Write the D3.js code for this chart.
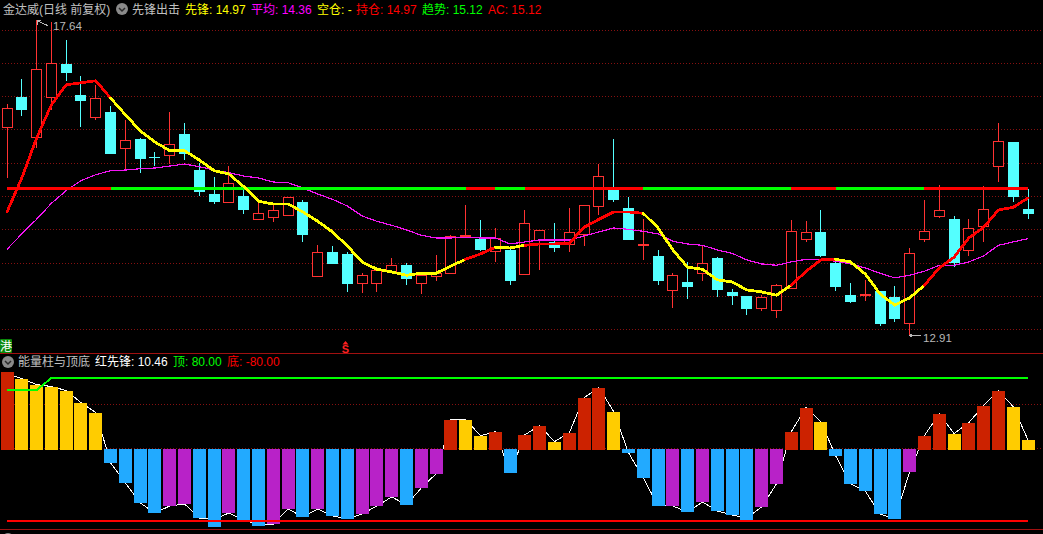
<!DOCTYPE html>
<html><head><meta charset="utf-8">
<script src="https://cdn.jsdelivr.net/npm/d3@7"></script>
<style>
html,body{margin:0;padding:0;background:#000;overflow:hidden}
svg{display:block}
text{font-family:"Liberation Sans","Noto Sans CJK SC",sans-serif;font-size:12px}
</style></head><body>
<script>
// ---- price candles ----
const open=[16.04,16.49,15.89,16.49,16.98,16.52,16.19,16.26,15.72,15.86,15.58,15.62,15.93,15.39,15.03,14.92,15.00,14.65,14.68,14.71,14.91,13.80,14.16,14.13,13.69,13.69,13.87,13.96,13.69,13.80,13.84,14.40,14.35,14.17,14.19,13.83,14.34,14.31,14.28,14.43,14.85,15.09,14.82,14.28,14.10,13.59,13.71,13.84,14.07,13.56,13.50,13.32,13.29,13.62,14.35,14.46,13.99,13.51,13.53,13.57,13.48,13.09,14.35,14.70,14.65,14.19,14.55,15.45,15.81,14.80];
const high=[16.38,16.76,17.64,17.61,17.34,16.80,16.67,16.35,16.14,15.87,15.66,16.26,16.10,15.50,15.29,15.45,15.14,14.95,14.89,14.98,14.94,14.26,14.25,14.16,13.84,13.89,14.07,13.99,13.81,14.11,14.41,14.86,14.64,14.52,14.20,14.79,14.49,14.59,14.82,14.86,15.48,15.86,14.98,14.65,14.19,13.84,14.01,14.26,14.08,13.60,13.50,13.51,13.68,14.64,14.62,14.79,14.07,13.69,13.74,13.57,13.65,14.22,14.94,15.17,14.70,14.65,15.15,16.10,15.81,15.11];
const low=[15.27,16.20,15.72,16.29,16.73,16.04,16.14,15.63,15.38,15.35,15.45,15.48,15.54,15.00,14.88,14.92,14.73,14.65,14.61,14.71,14.31,13.80,13.98,13.56,13.54,13.56,13.87,13.66,13.53,13.72,13.84,14.40,14.17,14.01,13.66,13.81,13.89,14.16,14.16,14.25,14.71,14.91,14.34,14.04,13.66,13.32,13.45,13.72,13.48,13.36,13.21,13.27,13.17,13.62,14.31,14.08,13.57,13.39,13.42,13.05,13.11,12.91,14.31,14.67,13.93,14.10,14.31,15.21,14.91,14.65];
const close=[16.32,16.29,16.91,17.00,16.85,16.43,16.47,15.63,15.84,15.56,15.57,15.78,15.63,15.06,14.91,15.20,14.79,14.74,14.79,14.98,14.41,14.16,13.98,13.68,13.81,13.89,13.96,13.75,13.81,13.84,14.40,14.41,14.19,14.37,13.72,14.59,14.49,14.22,14.46,14.86,15.30,14.94,14.34,14.28,13.72,13.81,13.63,13.99,13.59,13.50,13.30,13.48,13.66,14.47,14.46,14.10,13.63,13.41,13.53,13.08,13.15,14.14,14.47,14.79,13.99,14.52,14.80,15.83,14.98,14.73];
// ---- overlay lines ----
const leader=[14.76,15.27,15.87,16.37,16.67,16.70,16.73,16.47,16.22,15.98,15.81,15.68,15.68,15.54,15.38,15.33,15.14,14.92,14.88,14.88,14.76,14.62,14.46,14.25,14.01,13.90,13.86,13.81,13.84,13.84,13.95,14.05,14.13,14.23,14.22,14.26,14.28,14.28,14.29,14.53,14.65,14.76,14.76,14.74,14.52,14.19,13.93,13.90,13.74,13.71,13.59,13.56,13.51,13.66,13.87,14.04,14.05,14.01,13.83,13.53,13.36,13.47,13.66,13.92,14.08,14.37,14.53,14.79,14.83,14.97];
const average=[14.20,14.43,14.65,14.89,15.08,15.23,15.32,15.38,15.39,15.41,15.42,15.45,15.48,15.44,15.39,15.35,15.30,15.27,15.21,15.20,15.12,15.03,14.95,14.85,14.70,14.62,14.56,14.49,14.41,14.37,14.37,14.38,14.37,14.37,14.28,14.31,14.34,14.34,14.34,14.40,14.46,14.52,14.50,14.47,14.43,14.32,14.28,14.26,14.19,14.14,14.04,13.98,13.96,14.01,14.05,14.05,14.02,13.98,13.92,13.84,13.77,13.81,13.87,13.96,13.96,14.01,14.10,14.26,14.31,14.36];
const holding=[1,1,1,1,1,1,1,0,0,0,0,0,0,0,0,0,0,0,0,0,0,0,0,0,0,0,0,0,0,0,0,1,1,0,0,1,1,1,1,1,1,1,1,0,0,0,0,0,0,0,0,0,0,1,1,1,0,0,0,0,0,0,1,1,1,1,1,1,1,1];
const trendValue=15.12;
const priceGrid=[17.5,17,16.5,16,15.5,15,14.5,14,13.5,13];
// ---- energy panel ----
const energy=[86.2,79.4,72.7,70.4,65.9,52.4,41.1,-15.2,-37.7,-60.3,-71.5,-63.7,-61.4,-77.2,-87.3,-71.5,-81.7,-86.2,-83.9,-67,-76.1,-67,-74.9,-78.3,-72.7,-63.7,-53.5,-62.5,-43.4,-27.6,33.2,33.2,15.2,19.7,-26.5,16.3,26.5,8.5,18.6,58,69.3,42.3,-3.9,-32.1,-63.7,-63.7,-70.4,-59.2,-69.3,-73.8,-81.7,-64.8,-38.9,19.7,46.8,31,-7.3,-38.9,-46.8,-72.7,-78.3,-25.4,15.2,40,17.5,29.9,49,65.9,47.9,10.46];
const energyLine=[85,79.4,72.7,70.4,65.9,52.4,41.1,-15.2,-37.7,-60.3,-71.5,-63.7,-61.4,-77.2,-79,-71.5,-80,-84,-84,-67,-76.1,-67,-74.9,-78.3,-72.7,-63.7,-53.5,-62.5,-43.4,-27.6,33.2,33.2,15.2,19.7,-26.5,16.3,26.5,8.5,18.6,58,69.3,42.3,-3.9,-32.1,-63.7,-63.7,-70.4,-59.2,-69.3,-73.8,-77,-64.8,-38.9,19.7,46.8,31,-7.3,-38.9,-46.8,-72.7,-78.3,-25.4,15.2,40,17.5,29.9,49,65.9,47.9,10.46];
const energyKind="RYYYYYYBBBBPPBBPBBPPBPBBPPPBPPRYYRBRRYRRRYBBBPBPBBBPPRRYBBBBBPRRYRRRYY".split("");
const topLine=[66.3,66.3,66.3,80,80,80,80,80,80,80,80,80,80,80,80,80,80,80,80,80,80,80,80,80,80,80,80,80,80,80,80,80,80,80,80,80,80,80,80,80,80,80,80,80,80,80,80,80,80,80,80,80,80,80,80,80,80,80,80,80,80,80,80,80,80,80,80,80,80,80];
const bottomValue=-80;
const energyGrid=[50,0];
// ---- texts ----
const mainHeader=[["金达威(日线 前复权)","#c0c0c0",3],["先锋出击","#c0c0c0",132],["先锋: 14.97","#ffff00",185],["平均: 14.36","#ff00ff",251],["空仓: -","#ffff00",317],["持仓: 14.97","#ff0000",356],["趋势: 15.12","#00ff00",422],["AC: 15.12","#ff0000",488]];
const subHeader=[["能量柱与顶底","#c0c0c0",18],["红先锋: 10.46","#ffffff",95],["顶: 80.00","#00ff00",173],["底: -80.00","#ff0000",227]];
const clippedHeader=[["MACD(12,26,9)","#c0c0c0",18],["DIF: 0.36","#ffffff",105],["DEA: 0.26","#ffff00",160],["MACD: 0.20","#ff00ff",220]];

const W=1043,H=534;
const svg=d3.select("body").append("svg").attr("width",W).attr("height",H).style("background","#000");
const idx=d3.range(open.length);
const x=d3.scaleLinear().domain([0,69]).range([7,1028]);
const y=d3.scaleLinear().domain([15,14]).range([196,262.6]);
const yE=d3.scaleLinear().domain([80,-80]).range([378,520.5]);
const px=i=>Math.floor(x(i))+.5;
const crisp=g=>g.attr("shape-rendering","crispEdges");

// dotted grid
const gridColor="#861010";
const g0=svg.append("g").call(crisp);
g0.selectAll("line.p").data(priceGrid).join("line").attr("x1",2).attr("x2",W)
  .attr("y1",d=>Math.round(y(d))+.5).attr("y2",d=>Math.round(y(d))+.5)
  .attr("stroke",gridColor).attr("stroke-dasharray","1 2");
g0.selectAll("line.e").data(energyGrid).join("line").attr("x1",2).attr("x2",W)
  .attr("y1",d=>Math.round(yE(d))-.5).attr("y2",d=>Math.round(yE(d))-.5)
  .attr("stroke",gridColor).attr("stroke-dasharray","1 2");

// candles
const upColor="#ff3232",downColor="#54ffff";
const isUp=i=>close[i]>=open[i];
const c=svg.append("g").call(crisp);
c.selectAll("line.w").data(idx).join("line").attr("x1",px).attr("x2",px)
  .attr("y1",i=>y(high[i])).attr("y2",i=>y(low[i]))
  .attr("stroke",i=>isUp(i)?upColor:downColor);
c.selectAll("rect").data(idx).join("rect")
  .attr("x",i=>isUp(i)?px(i)-5:px(i)-5.5)
  .attr("width",i=>isUp(i)?10:11)
  .attr("y",i=>{const t=Math.round(y(Math.max(open[i],close[i])));return isUp(i)?t+.5:t;})
  .attr("height",i=>Math.max(Math.round(Math.abs(y(open[i])-y(close[i]))),1))
  .attr("fill",i=>isUp(i)?"#000":downColor)
  .attr("stroke",i=>isUp(i)?upColor:"none");

// average line
const line=d3.line().x(i=>x(i));
svg.append("path").datum(idx).attr("fill","none").attr("stroke","#f414f4").attr("stroke-width",1.2)
  .attr("shape-rendering","crispEdges").attr("d",line.y(i=>y(average[i])));

// leader and trend, segment coloured by state
const seg=idx.slice(0,-1);
const s=svg.append("g").call(crisp);
s.selectAll("line.t").data(seg).join("line").attr("x1",x).attr("x2",i=>x(i+1))
  .attr("y1",y(trendValue)).attr("y2",y(trendValue)).attr("stroke-width",3)
  .attr("stroke",i=>holding[i]?"#ff0000":"#00ff00");
s.selectAll("line.l").data(seg).join("line").attr("x1",x).attr("x2",i=>x(i+1))
  .attr("y1",i=>y(leader[i])).attr("y2",i=>y(leader[i+1])).attr("stroke-width",2.8)
  .attr("stroke-linecap","round").attr("stroke",i=>holding[i]?"#ff0000":"#ffff00");

// peak / trough notes
const noteColor="#b8b8b8";
const peakI=2, lowI=61;
svg.append("path").attr("fill","none").attr("stroke",noteColor).call(crisp)
  .attr("d",`M${px(peakI)+.5},${y(17.64)+.5}h4M${px(peakI)+.5},${y(17.64)+.5}v4M${px(peakI)+.5},${y(17.64)+.5}l11,5`);
svg.append("text").attr("x",53).attr("y",30).attr("fill",noteColor).style("font-size","11.5px").text(d3.format(".2f")(high[peakI]));
const ly=335.5;
svg.append("path").attr("fill","none").attr("stroke",noteColor).call(crisp)
  .attr("d",`M${px(lowI)},${ly}h11M${px(lowI)},${ly}l3,-2M${px(lowI)},${ly}l3,2`);
svg.append("text").attr("x",923).attr("y",341.5).attr("fill",noteColor).style("font-size","11.5px").text(d3.format(".2f")(low[lowI]));

// energy white line (under bars)
svg.append("path").datum(idx).attr("fill","none").attr("stroke","#fff").attr("stroke-width",1)
  .attr("shape-rendering","crispEdges").attr("d",d3.line().x(x).y(i=>yE(energyLine[i])));
// energy bars
const kindColor={R:"#cc2200",Y:"#ffcc00",B:"#22aaff",P:"#b822c8"};
const zero=Math.round(yE(0));
svg.append("g").call(crisp).selectAll("rect").data(idx).join("rect")
  .attr("x",i=>Math.floor(x(i)-6)).attr("width",13)
  .attr("y",i=>energy[i]>=0?Math.round(yE(energy[i])):zero)
  .attr("height",i=>energy[i]>=0?zero+1-Math.round(yE(energy[i])):Math.round(yE(energy[i]))-zero)
  .attr("fill",i=>kindColor[energyKind[i]]);
// top and bottom lines
svg.append("path").datum(idx).attr("fill","none").attr("stroke","#00ff00").attr("stroke-width",2)
  .attr("shape-rendering","crispEdges").attr("d",d3.line().x(x).y(i=>yE(topLine[i])));
svg.append("line").attr("x1",x(0)).attr("x2",x(69)).attr("y1",yE(bottomValue)).attr("y2",yE(bottomValue))
  .attr("stroke","#ff0000").attr("stroke-width",2).call(crisp);

// separators
svg.append("g").call(crisp).selectAll("line").data([353.5,529.5]).join("line")
  .attr("x1",0).attr("x2",W).attr("y1",d=>d).attr("y2",d=>d).attr("stroke","#a01010");

// headers
function header(items,by){
  svg.append("g").selectAll("text").data(items).join("text")
    .attr("x",d=>d[2]).attr("y",by).attr("fill",d=>d[1]).text(d=>d[0]);
}
header(mainHeader,14);
header(subHeader,366);
header(clippedHeader,543);
// chevron icons
function icon(cx,cy){
  svg.append("circle").attr("cx",cx).attr("cy",cy).attr("r",6).attr("fill","#8a8a8a");
  svg.append("path").attr("d",`M${cx-3},${cy-1}l3,3l3,-3`).attr("fill","none").attr("stroke","#2a2a2a").attr("stroke-width",1.5);
}
icon(122,9); icon(8,362); icon(8,539);

// markers
svg.append("rect").attr("x",0).attr("y",339).attr("width",12).attr("height",14).attr("rx",1).attr("fill","#0a8a0a");
svg.append("text").attr("x",0).attr("y",350.5).attr("fill","#fff").text("港");
svg.append("path").attr("d","M345.5,341l3,3.5h-6z").attr("fill","#ff2020");
svg.append("text").attr("x",345.5).attr("y",353).attr("text-anchor","middle").attr("fill","#ff2020").style("font-size","11px").style("font-weight","bold").text("S");
</script>
</body></html>
